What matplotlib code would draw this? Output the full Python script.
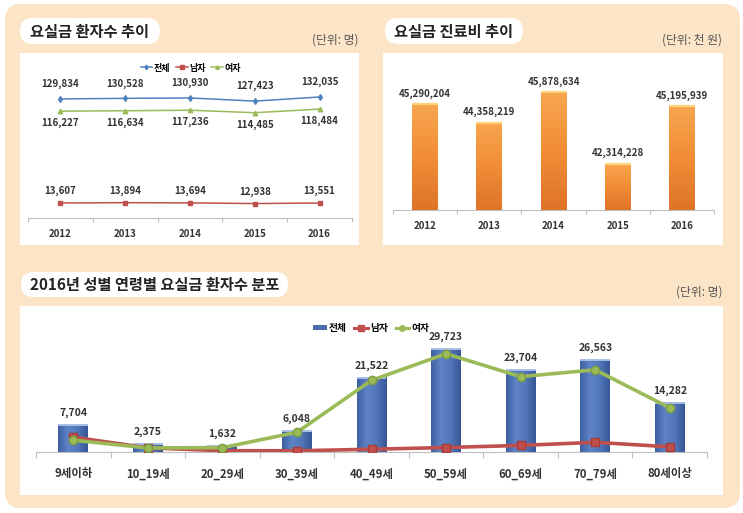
import matplotlib
matplotlib.use("Agg")
import matplotlib.pyplot as plt
from matplotlib.patches import FancyBboxPatch, Rectangle
from matplotlib.lines import Line2D
from matplotlib.colors import LinearSegmentedColormap
import numpy as np

plt.rcParams['font.family'] = ['Noto Sans CJK KR', 'DejaVu Sans']

# ---- data ----
years = ['2012', '2013', '2014', '2015', '2016']
pat_total = [129834, 130528, 130930, 127423, 132035]
pat_male = [13607, 13894, 13694, 12938, 13551]
pat_female = [116227, 116634, 117236, 114485, 118484]

cost = [45290204, 44358219, 45878634, 42314228, 45195939]

ages = ['9세이하', '10_19세', '20_29세', '30_39세', '40_49세',
        '50_59세', '60_69세', '70_79세', '80세이상']
age_total = [7704, 2375, 1632, 6048, 21522, 29723, 23704, 26563, 14282]
age_male = [4300, 1200, 370, 350, 800, 1300, 1900, 2800, 1500]
age_female = [3400, 1175, 1262, 5698, 20722, 28423, 21804, 23763, 12782]

W, H = 743, 513
PEACH = '#FCE4C7'
TXT = '#333333'
BLUE = '#4F81BD'
RED = '#C0504D'
GREEN = '#9BBB59'

fig = plt.figure(figsize=(W / 100, H / 100), dpi=100)
fig.patch.set_facecolor('white')

# background layer in pixel coords
bg = fig.add_axes([0, 0, 1, 1])
bg.set_xlim(0, W)
bg.set_ylim(H, 0)
bg.axis('off')
bg.set_zorder(-10)

bg.add_patch(FancyBboxPatch((5, 4), 735, 504, boxstyle='round,pad=0,rounding_size=16',
                            fc=PEACH, ec='none'))
for x0, y0, x1, y1 in [(20, 53, 359, 245), (383, 53, 723, 245), (20, 306, 723, 495)]:
    bg.add_patch(Rectangle((x0, y0), x1 - x0, y1 - y0, fc='white', ec='none'))

# title pills
for x0, y0, x1, y1, tx, label in [(20, 18, 160, 44, 30, '요실금 환자수 추이'),
                                  (385, 18, 523, 44, 394, '요실금 진료비 추이'),
                                  (21, 272, 288, 297, 30, '2016년 성별 연령별 요실금 환자수 분포')]:
    r = (y1 - y0) / 2
    bg.add_patch(FancyBboxPatch((x0, y0), x1 - x0, y1 - y0,
                                boxstyle='round,pad=0,rounding_size=%g' % r,
                                fc='white', ec='none'))
    bg.text(tx, (y0 + y1) / 2 + 0.5, label, fontsize=11, fontweight='bold',
            color='#222222', va='center', ha='left')

bg.text(358, 40, '(단위: 명)', fontsize=8.5, color='#555555', ha='right', va='center')
bg.text(722, 40, '(단위: 천 원)', fontsize=8.5, color='#555555', ha='right', va='center')
bg.text(722, 292, '(단위: 명)', fontsize=8.5, color='#555555', ha='right', va='center')


def px_axes(x0, y0, x1, y1):
    ax = fig.add_axes([x0 / W, 1 - y1 / H, (x1 - x0) / W, (y1 - y0) / H])
    ax.patch.set_alpha(0)
    for s in ['top', 'right', 'left']:
        ax.spines[s].set_visible(False)
    ax.spines['bottom'].set_color('#BFBFBF')
    ax.spines['bottom'].set_linewidth(0.8)
    ax.set_yticks([])
    return ax


def cat_axis(ax, labels, fs, pad, ticklen):
    n = len(labels)
    ax.set_xlim(-0.5, n - 0.5)
    ax.set_xticks(np.arange(n))
    ax.set_xticklabels(labels, fontsize=fs, fontweight='bold', color=TXT)
    ax.set_xticks(np.arange(n + 1) - 0.5, minor=True)
    ax.tick_params(axis='x', which='major', length=0, pad=pad)
    ax.tick_params(axis='x', which='minor', length=ticklen, color='#BFBFBF', width=0.8)


# ---- top-left: patient trend ----
ax1 = px_axes(28, 75, 352, 218)
x = np.arange(len(years))
ax1.plot(x, pat_total, color=BLUE, lw=1.1, marker='d', ms=3, label='전체')
ax1.plot(x, pat_male, color=RED, lw=1.1, marker='s', ms=3.2, label='남자')
ax1.plot(x, pat_female, color=GREEN, lw=1.1, marker='^', ms=3.2, label='여자')
ax1.set_ylim(-3200, 156600)
cat_axis(ax1, years, 7, 8, 3)
for i in range(len(years)):
    ax1.annotate(f'{pat_total[i]:,}', (x[i], pat_total[i]), xytext=(0, 7), textcoords='offset points',
                 ha='center', va='bottom', fontsize=7, fontweight='bold', color=TXT)
    ax1.annotate(f'{pat_female[i]:,}', (x[i], pat_female[i]), xytext=(0, -5), textcoords='offset points',
                 ha='center', va='top', fontsize=7, fontweight='bold', color=TXT)
    ax1.annotate(f'{pat_male[i]:,}', (x[i], pat_male[i]), xytext=(0, 5), textcoords='offset points',
                 ha='center', va='bottom', fontsize=7, fontweight='bold', color=TXT)
ax1.legend(loc='center', bbox_to_anchor=(191 / W, 1 - 68 / H), bbox_transform=fig.transFigure,
           ncol=3, frameon=False, prop={'size': 6.5, 'weight': 'bold'}, handlelength=1.3,
           handletextpad=0.2, columnspacing=0.6, markerscale=0.8)

# ---- top-right: cost bars ----
ax2 = px_axes(393, 70, 714, 210)
bars = ax2.bar(x, cost, width=0.4, bottom=0, color='#EE8A35', zorder=2)
orange = LinearSegmentedColormap.from_list('o', ['#DE7428', '#F18D37', '#F7A64E'])
for b in bars:
    x0, w = b.get_x(), b.get_width()
    top = b.get_height()
    ax2.imshow(np.linspace(0, 1, 64).reshape(-1, 1), extent=(x0, x0 + w, 40e6, top),
               aspect='auto', cmap=orange, origin='lower', zorder=3)
    ax2.plot([x0, x0 + w], [top, top], color='#FFD27A', lw=1.6, zorder=4, solid_capstyle='butt')
ax2.set_ylim(40e6, 47e6)
cat_axis(ax2, years, 7, 8, 3)
for i in range(len(years)):
    ax2.annotate(f'{cost[i]:,}', (x[i], cost[i]), xytext=(0, 4), textcoords='offset points',
                 ha='center', va='bottom', fontsize=7, fontweight='bold', color=TXT)

# ---- bottom: age distribution ----
ax3 = px_axes(36, 331, 707, 452)
xa = np.arange(len(ages))
bars3 = ax3.bar(xa, age_total, width=0.4, color='#4A6DB0', zorder=2, label='전체')
blue = LinearSegmentedColormap.from_list('b', ['#3D60A2', '#5F84C6', '#5276BA', '#375795'])
for b in bars3:
    x0, w = b.get_x(), b.get_width()
    top = b.get_height()
    ax3.imshow(np.linspace(0, 1, 64).reshape(1, -1), extent=(x0, x0 + w, 0, top),
               aspect='auto', cmap=blue, origin='lower', zorder=3)
    ax3.plot([x0, x0 + w], [top, top], color='#A8BFE6', lw=1.4, zorder=4, solid_capstyle='butt')
ax3.plot(xa, age_male, color=RED, lw=2.6, marker='s', ms=6, mec='#A83A37', zorder=5, label='남자')
ax3.plot(xa, age_female, color=GREEN, lw=2.6, marker='o', ms=6, mec='#7E9E3E', zorder=6, label='여자')
ax3.set_ylim(0, 35000)
cat_axis(ax3, ages, 8.2, 11, 4)
for i in range(len(ages)):
    ax3.annotate(f'{age_total[i]:,}', (xa[i], age_total[i]), xytext=(0, 5), textcoords='offset points',
                 ha='center', va='bottom', fontsize=7.5, fontweight='bold', color=TXT)
handles = [Rectangle((0, 0), 1, 1, fc='#4A6DB0'),
           Line2D([], [], color=RED, lw=2.2, marker='s', ms=4),
           Line2D([], [], color=GREEN, lw=2.2, marker='o', ms=4)]
ax3.legend(handles, ['전체', '남자', '여자'], loc='center', bbox_to_anchor=(371 / W, 1 - 328 / H),
           bbox_transform=fig.transFigure, ncol=3, frameon=False,
           prop={'size': 7, 'weight': 'bold'}, handlelength=1.4, handleheight=0.5,
           handletextpad=0.2, columnspacing=0.8)

fig.savefig('out.png', dpi=100)
